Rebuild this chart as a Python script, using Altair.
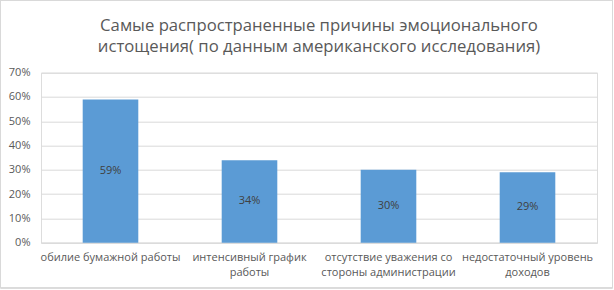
import altair as alt
import pandas as pd

categories = [
    "обилие бумажной работы",
    "интенсивный график|работы",
    "отсутствие уважения со|стороны администрации",
    "недостаточный уровень|доходов",
]
values = [0.59, 0.34, 0.30, 0.29]
labels = ["59%", "34%", "30%", "29%"]
title_lines = [
    "Самые распространенные причины эмоционального",
    "истощения( по данным американского исследования)",
]

df = pd.DataFrame({"cat": categories, "val": values, "lab": labels})

FONT = "Open Sans"
GREY = "#595959"

x_axis = alt.Axis(
    title=None,
    labelAngle=0,
    ticks=False,
    domain=True,
    domainColor="#d9d9d9",
    labelExpr="split(datum.label, '|')",
    labelFontSize=11,
    labelLineHeight=15,
    labelColor=GREY,
    labelFont=FONT,
    labelPadding=9,
    labelLimit=200,
)
y_axis = alt.Axis(
    title=None,
    format=".0%",
    values=[0, 0.1, 0.2, 0.3, 0.4, 0.5, 0.6, 0.7],
    ticks=False,
    domain=False,
    gridColor="#d9d9d9",
    labelFontSize=11,
    labelColor=GREY,
    labelFont=FONT,
    labelPadding=11,
)
x_scale = alt.Scale(paddingInner=0.6, paddingOuter=0.3)
y_scale = alt.Scale(domain=[0, 0.7], nice=False)

bars = alt.Chart(df).mark_bar(color="#5b9bd5").encode(
    x=alt.X("cat:N", sort=categories, scale=x_scale, axis=x_axis),
    y=alt.Y("val:Q", scale=y_scale, axis=y_axis),
)
text = alt.Chart(df).mark_text(
    font=FONT, fontSize=11, color="#404040"
).encode(
    x=alt.X("cat:N", sort=categories, scale=x_scale, axis=x_axis),
    y=alt.Y("mid:Q", scale=y_scale, axis=y_axis),
    text="lab:N",
).transform_calculate(mid="datum.val / 2")

border = alt.Chart(df).mark_rect(
    fill=None, stroke="#d9d9d9", strokeWidth=1
).encode(
    x=alt.value(-40.5), x2=alt.value(571.5), y=alt.value(-72.2), y2=alt.value(215.3)
)

chart = alt.layer(bars, text, border).properties(
    width=556,
    height=170,
    padding={"left": 41, "top": 72.7, "right": 17, "bottom": 47.3},
    autosize=alt.AutoSizeParams(type="none"),
    title=alt.TitleParams(
        text=title_lines,
        font=FONT,
        fontSize=16.7,
        fontWeight="normal",
        color=GREY,
        anchor="middle",
        lineHeight=21,
        offset=-55.5,
    ),
).configure_view(strokeWidth=0).configure(background="white")

chart.save("out.html", embed_options={"renderer": "svg", "actions": False})
